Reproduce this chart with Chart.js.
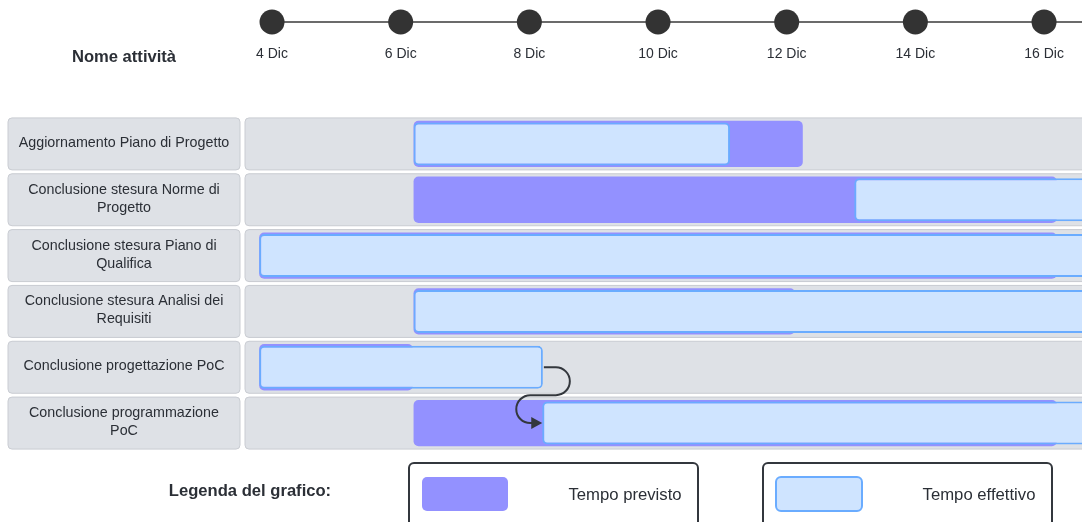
<!DOCTYPE html>
<html>
  <head>
    <title>Diagramma di Gantt</title>
    <meta charset="utf-8" />
    <script src="https://cdn.jsdelivr.net/npm/chart.js"></script>
    <style>
      body { margin: 0; background: #ffffff; }
      canvas { display: block; }
    </style>
  </head>
  <body>
    <canvas id="myChartGantt" width="1082" height="522"></canvas>
    <script>
      // attività (righe), gia spezzate su piu righe come nel grafico
      const categories = [
        ["Aggiornamento Piano di Progetto"],
        ["Conclusione stesura Norme di", "Progetto"],
        ["Conclusione stesura Piano di", "Qualifica"],
        ["Conclusione stesura Analisi dei", "Requisiti"],
        ["Conclusione progettazione PoC"],
        ["Conclusione programmazione", "PoC"],
      ];
      // giorni di dicembre
      const plannedStart = [6.2, 6.2, 3.8, 6.2, 3.8, 6.2];
      const plannedEnd = [12.25, 16.2, 16.2, 12.13, 6.19, 16.2];
      const actualStart = [6.2, 13.05, 3.8, 6.2, 3.8, 8.2];
      const actualEnd = [11.12, 17.5, 17.5, 17.5, 8.21, 17.5];
      const tickDays = [4, 6, 8, 10, 12, 14, 16];
      const tickLabels = ["4 Dic", "6 Dic", "8 Dic", "10 Dic", "12 Dic", "14 Dic", "16 Dic"];
      const dependencies = [[4, 5]];

      const FONT = "'Liberation Sans', Arial, sans-serif";
      const TEXT = "#2b2f36";
      const PURPLE = "#9391ff";
      const LIGHTBLUE = "#cfe4ff";
      const BLUE = "#6aacff";
      const ROWBG = "#dee1e6";

      function roundRect(c, x, y, w, h, r) {
        c.beginPath();
        c.roundRect(x, y, w, h, r);
      }

      const ganttDecor = {
        id: "ganttDecor",
        beforeDatasetsDraw(chart) {
          const c = chart.ctx;
          const area = chart.chartArea;
          const y = chart.scales.y;
          c.save();
          categories.forEach((lines, i) => {
            const yc = y.getPixelForValue(i);
            // cella nome
            roundRect(c, 8, yc - 26, 232, 52, 4);
            c.fillStyle = ROWBG;
            c.fill();
            c.strokeStyle = "#c9ccd2";
            c.lineWidth = 1;
            c.stroke();
            // cella timeline
            roundRect(c, area.left, yc - 26, area.right - area.left + 10, 52, 4);
            c.fillStyle = ROWBG;
            c.fill();
            c.stroke();
            c.fillStyle = TEXT;
            c.font = "14.3px " + FONT;
            c.textAlign = "center";
            c.textBaseline = "middle";
            const lh = 18;
            lines.forEach((t, k) => {
              c.fillText(t, 124, yc - 1 + (k - (lines.length - 1) / 2) * lh);
            });
          });
          c.restore();
        },
        afterDatasetsDraw(chart) {
          const c = chart.ctx;
          const x = chart.scales.x;
          const y = chart.scales.y;
          c.save();
          c.strokeStyle = "#33373d";
          c.fillStyle = "#33373d";
          c.lineWidth = 2;
          dependencies.forEach((d) => {
            const x1 = x.getPixelForValue(actualEnd[d[0]]) + 1;
            const y1 = y.getPixelForValue(d[0]);
            const x2 = x.getPixelForValue(actualStart[d[1]]);
            const y2 = y.getPixelForValue(d[1]);
            const r = (y2 - y1) / 4;
            const ym = (y1 + y2) / 2;
            c.beginPath();
            c.moveTo(x1, y1);
            c.lineTo(x1 + 12, y1);
            c.arc(x1 + 12, y1 + r, r, -Math.PI / 2, Math.PI / 2);
            c.lineTo(x2 - 12, ym);
            c.arc(x2 - 12, ym + r, r, -Math.PI / 2, Math.PI / 2, true);
            c.lineTo(x2 - 8, y2);
            c.stroke();
            c.beginPath();
            c.moveTo(x2, y2);
            c.lineTo(x2 - 11, y2 - 6);
            c.lineTo(x2 - 11, y2 + 6);
            c.closePath();
            c.fill();
          });
          c.restore();
        },
        afterDraw(chart) {
          const c = chart.ctx;
          const x = chart.scales.x;
          c.save();
          // timeline in alto
          c.strokeStyle = "#3a3a3a";
          c.lineWidth = 1.5;
          c.beginPath();
          c.moveTo(x.getPixelForValue(tickDays[0]), 22);
          c.lineTo(chart.width, 22);
          c.stroke();
          c.fillStyle = "#333333";
          tickDays.forEach((d) => {
            c.beginPath();
            c.arc(x.getPixelForValue(d), 22, 12.5, 0, Math.PI * 2);
            c.fill();
          });
          c.fillStyle = TEXT;
          c.font = "14px " + FONT;
          c.textAlign = "center";
          c.textBaseline = "middle";
          tickDays.forEach((d, i) => {
            c.fillText(tickLabels[i], x.getPixelForValue(d), 54);
          });
          c.font = "bold 16.6px " + FONT;
          c.fillText("Nome attività", 124, 57);
          c.fillText("Legenda del grafico:", 250, 491);

          // legenda
          const items = [
            { box: 409, ds: chart.data.datasets[1] },
            { box: 763, ds: chart.data.datasets[0] },
          ];
          items.forEach((it) => {
            roundRect(c, it.box, 463, 289, 80, 5);
            c.strokeStyle = "#33373d";
            c.lineWidth = 2;
            c.stroke();
            roundRect(c, it.box + 13, 477, 86, 34, 5);
            c.fillStyle = it.ds.backgroundColor;
            c.fill();
            if (it.ds.borderWidth) {
              c.strokeStyle = it.ds.borderColor;
              c.lineWidth = 2;
              c.stroke();
            }
            c.fillStyle = TEXT;
            c.font = "16.7px " + FONT;
            c.textAlign = "center";
            c.fillText(it.ds.label, it.box + 216, 495);
          });
          c.restore();
        },
      };

      const ctx = document.getElementById("myChartGantt").getContext("2d");
      const myChartGantt = new Chart(ctx, {
        type: "bar",
        data: {
          labels: categories,
          datasets: [
            {
              label: "Tempo effettivo",
              data: actualStart.map((s, i) => [s, actualEnd[i]]),
              backgroundColor: LIGHTBLUE,
              borderColor: BLUE,
              borderWidth: 2,
              borderRadius: 5,
              borderSkipped: false,
              barPercentage: 0.77,
              categoryPercentage: 1,
              grouped: false,
              order: 0,
            },
            {
              label: "Tempo previsto",
              data: plannedStart.map((s, i) => [s, plannedEnd[i]]),
              backgroundColor: PURPLE,
              borderWidth: 0,
              borderRadius: 5,
              borderSkipped: false,
              barPercentage: 0.83,
              categoryPercentage: 1,
              grouped: false,
              order: 1,
            },
          ],
        },
        options: {
          indexAxis: "y",
          responsive: false,
          animation: false,
          layout: {
            padding: { left: 245, top: 116, right: 0, bottom: 71 },
          },
          scales: {
            x: { type: "linear", min: 3.58, max: 16.59, display: false },
            y: { display: false, offset: true },
          },
          plugins: {
            legend: { display: false },
            tooltip: { enabled: false },
          },
        },
        plugins: [ganttDecor],
      });
    </script>
  </body>
</html>
